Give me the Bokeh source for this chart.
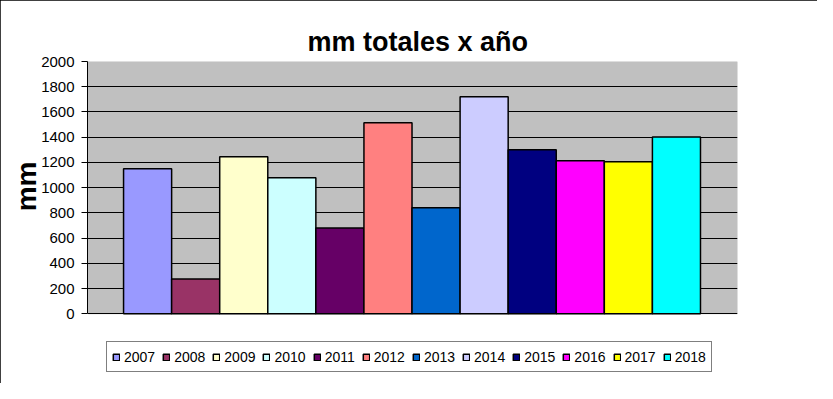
from bokeh.plotting import figure
from bokeh.models import (ColumnDataSource, Range1d, FixedTicker, Legend, LegendItem,
                          BoxAnnotation, Title)
from bokeh.embed import file_html
from bokeh.resources import INLINE

# ---- data ----
years = ["2007", "2008", "2009", "2010", "2011", "2012",
         "2013", "2014", "2015", "2016", "2017", "2018"]
mm_values = [1150, 275, 1245, 1078, 680, 1515, 840, 1720, 1300, 1213, 1205, 1402]
bar_colors = ["#9999FF", "#993366", "#FFFFCC", "#CCFFFF", "#660066", "#FF8080",
              "#0066CC", "#CCCCFF", "#000080", "#FF00FF", "#FFFF00", "#00FFFF"]
y_ticks = [0, 200, 400, 600, 800, 1000, 1200, 1400, 1600, 1800, 2000]
y_min, y_max = 0, 2000
title_text = "mm totales x año"
y_label = "mm"

FONT = "Liberation Sans"

src = ColumnDataSource(dict(x=list(range(len(years))), top=mm_values,
                            color=bar_colors, year=years))

# frame extends below the value axis to host the legend (252.3 px per 2000 mm)
frame_top, frame_bottom = 61, 380
px_per_unit = 252.3 / (y_max - y_min)
y_start = y_max - (frame_bottom - frame_top) / px_per_unit

p = figure(width=817, height=383, output_backend="svg", toolbar_location=None,
           x_range=Range1d(-1.25, 12.27), y_range=Range1d(y_start, y_max),
           x_axis_location=None, title=title_text,
           min_border_left=87, min_border_right=80,
           min_border_top=frame_top, min_border_bottom=383 - frame_bottom)
p.styles = {"outline": "1px solid black", "outline-offset": "-1px"}

# title
p.title.text_font = FONT
p.title.text_font_size = "27px"
p.title.text_font_style = "bold"
p.title.text_color = "black"
p.title.align = "left"
p.title.offset = 220
p.title.standoff = 10

# plot area
p.background_fill_color = "white"
p.border_fill_color = "white"
p.outline_line_color = None
plot_area = BoxAnnotation(bottom=y_min, top=y_max, fill_color="#C0C0C0", fill_alpha=1,
                          line_color="#808080", line_width=1, level="image")
p.add_layout(plot_area)

# grid
p.xgrid.visible = False
p.ygrid.ticker = FixedTicker(ticks=y_ticks)
p.ygrid.grid_line_color = "black"
p.ygrid.grid_line_width = 1

# y axis
ax = p.yaxis[0]
ax.ticker = FixedTicker(ticks=y_ticks)
ax.bounds = (y_min, y_max)
ax.minor_tick_line_color = None
ax.major_tick_out = 6
ax.major_tick_in = 0
ax.major_tick_line_color = "black"
ax.axis_line_color = "black"
ax.major_label_text_font = FONT
ax.major_label_text_font_size = "15px"
ax.major_label_text_color = "black"
ax.major_label_standoff = 7

# y label as a left-side title, aligned to the value-axis span
ylab = Title(text=y_label, align="right", offset=100, standoff=-6,
             text_font=FONT, text_font_size="28px", text_font_style="bold",
             text_color="black")
p.add_layout(ylab, "left")

# bars
r = p.vbar(x="x", top="top", width=1, source=src, fill_color="color",
           line_color="black", line_width=1.5)

items = [LegendItem(label=years[i], renderers=[r], index=i) for i in range(len(years))]
legend = Legend(items=items, orientation="horizontal", location=(19, 8),
                margin=0, padding=5, spacing=7, label_standoff=4,
                glyph_width=8, glyph_height=8, label_height=19,
                label_text_font=FONT, label_text_font_size="14px",
                label_text_color="black",
                border_line_color="black", border_line_width=1,
                background_fill_color="white", background_fill_alpha=1)
p.add_layout(legend)

open("out.html", "w").write(file_html(p, INLINE))
